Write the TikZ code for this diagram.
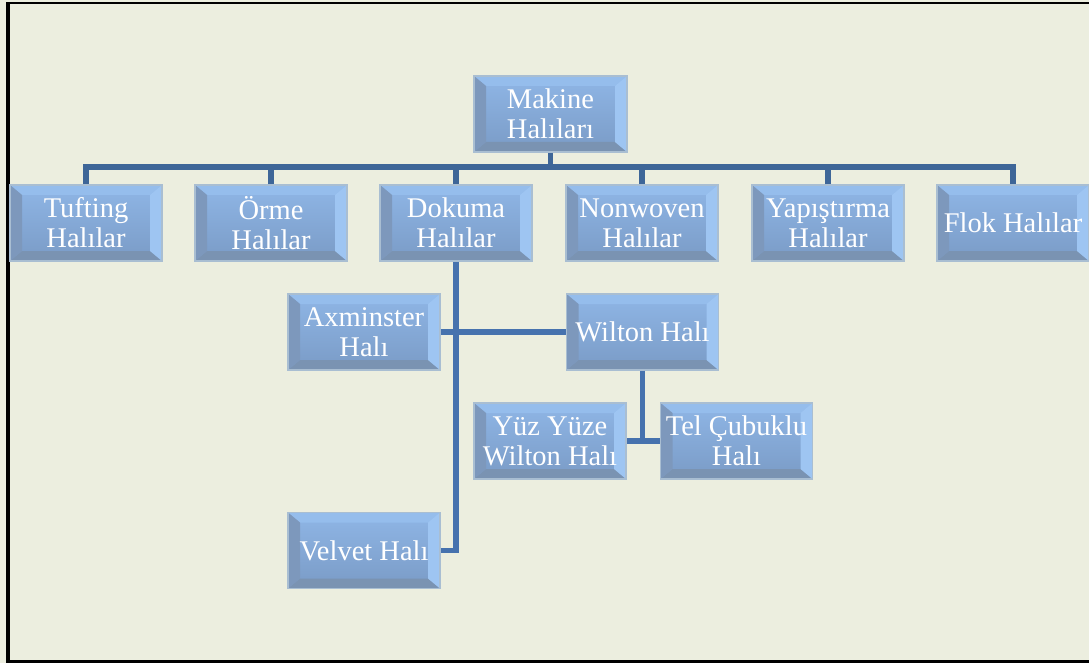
\documentclass[tikz,border=0pt]{standalone}
\usepackage{fontspec}
\setmainfont{Liberation Serif}
\usetikzlibrary{calc}
\definecolor{pagebg}{HTML}{ECEEDF}
\definecolor{linkblue}{HTML}{4672AE}
\definecolor{busblue}{HTML}{3E6698}
\definecolor{facetop}{HTML}{8FB6E6}
\definecolor{facebot}{HTML}{7A9BC6}
\definecolor{bevtop}{HTML}{95BDEC}
\definecolor{bevleft}{HTML}{7D98BC}
\definecolor{bevright}{HTML}{9EC5F2}
\definecolor{bevbot}{HTML}{7A93B2}
\definecolor{rim}{HTML}{A9BED2}
\tikzset{
  catbox/.style={
    minimum width=152pt, minimum height=76pt, inner sep=0pt,
    align=center, text=white,
    font=\fontsize{28.5pt}{30pt}\selectfont,
    top color=facetop, bottom color=facebot,
    draw=rim, line width=1.6pt,
    path picture={
      \path (path picture bounding box.south west) coordinate (bsw)
            (path picture bounding box.north east) coordinate (bne);
      \fill[bevtop] (bsw |- bne) -- (bne) -- ($(bne)+(-12pt,-10pt)$) -- ($(bsw |- bne)+(12pt,-10pt)$) -- cycle;
      \fill[bevbot] (bsw) -- (bsw -| bne) -- ($(bsw -| bne)+(-12pt,10pt)$) -- ($(bsw)+(12pt,10pt)$) -- cycle;
      \fill[bevleft] (bsw) -- (bsw |- bne) -- ($(bsw |- bne)+(12pt,-10pt)$) -- ($(bsw)+(12pt,10pt)$) -- cycle;
      \fill[bevright] (bne) -- (bsw -| bne) -- ($(bsw -| bne)+(-12pt,10pt)$) -- ($(bne)+(-12pt,-10pt)$) -- cycle;
    }
  },
  conn/.style={draw=linkblue, line width=5.5pt},
  busline/.style={draw=busblue, line width=5.5pt}
}
\begin{document}
\begin{tikzpicture}[x=1pt, y=-1pt]
  % page and frame
  \fill[pagebg] (0,0) rectangle (1089,663);
  \useasboundingbox (0,0) rectangle (1089,663);
  \fill[black] (6,2) rectangle (1089,4.5);
  \fill[black] (6,2) rectangle (10,663);
  \fill[black] (6,660) rectangle (1089,663);

  % bus under the root
  \coordinate (bus) at (550.5,167);

  % root
  \node[catbox, minimum width=153pt] (mak) at (550.5,114) {Makine\\Halıları};

  % first level
  \node[catbox] (tuf) at (86,223)   {Tufting\\Halılar};
  \node[catbox] (orm) at (271,223)  {Örme\\Halılar};
  \node[catbox] (dok) at (456,223)  {Dokuma\\Halılar};
  \node[catbox] (non) at (642,223)  {Nonwoven\\Halılar};
  \node[catbox] (yap) at (828,223)  {Yapıştırma\\Halılar};
  \node[catbox] (flk) at (1013,223) {Flok Halılar};

  % woven carpets
  \node[catbox] (axm) at (364,332)   {Axminster\\Halı};
  \node[catbox] (wil) at (642.5,332) {Wilton Halı};
  \node[catbox] (yuz) at (550,441)   {Yüz Yüze\\Wilton Halı};
  \node[catbox] (tel) at (736.5,441) {Tel Çubuklu\\Halı};
  \node[catbox] (vel) at (364,550.5) {Velvet Halı};

  % root to first level
  \draw[busline] (mak.south) -- (bus);
  \draw[busline] (tuf.north) |- (bus) -| (flk.north);
  \draw[busline] (orm.north) -- (orm.north |- bus);
  \draw[busline] (dok.north) -- (dok.north |- bus);
  \draw[busline] (non.north) -- (non.north |- bus);
  \draw[busline] (yap.north) -- (yap.north |- bus);

  % Dokuma branch
  \draw[conn] (dok.south) |- (vel.east);
  \draw[conn] (axm.east) -- (wil.west);
  \draw[conn] (wil.south) |- (yuz.east);
  \draw[conn] (wil.south) |- (tel.west);
\end{tikzpicture}
\end{document}
